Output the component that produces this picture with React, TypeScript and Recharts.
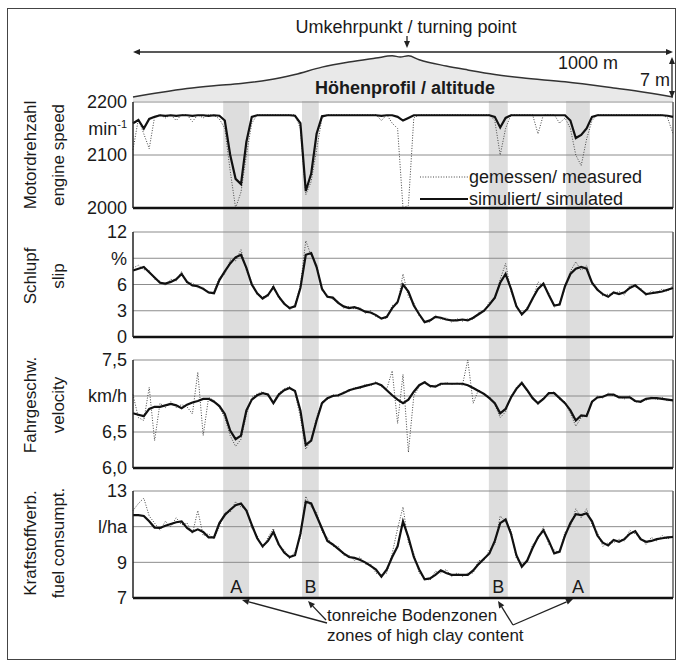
import React from 'react';
import {
  LineChart,
  Line,
  AreaChart,
  Area,
  XAxis,
  YAxis,
  ReferenceLine,
  ReferenceArea
} from 'recharts';

const FONT = '"Liberation Sans", Arial, Helvetica, sans-serif';

// distance along the track, m (10 m steps)
const DIST = Array.from({ length: 101 }, (_, i) => i * 10);

const ENGINE_SIM = [
  2160, 2166, 2150, 2168, 2172, 2175, 2174, 2175, 2174, 2175,
  2175, 2174, 2175, 2175, 2174, 2175, 2174, 2165, 2100, 2055,
  2045, 2125, 2172, 2175, 2175, 2175, 2175, 2175, 2175, 2175,
  2174, 2160, 2032, 2065, 2140, 2173, 2175, 2175, 2175, 2175,
  2175, 2175, 2175, 2175, 2175, 2175, 2174, 2175, 2175, 2172,
  2165, 2170, 2175, 2175, 2175, 2175, 2175, 2175, 2175, 2175,
  2175, 2175, 2175, 2175, 2175, 2175, 2175, 2172, 2152, 2170,
  2175, 2175, 2175, 2175, 2175, 2175, 2175, 2175, 2175, 2175,
  2175, 2165, 2132, 2138, 2150, 2172, 2175, 2175, 2175, 2175,
  2175, 2175, 2175, 2175, 2175, 2175, 2175, 2175, 2175, 2174,
  2172
];
const ENGINE_MEAS = [
  2110, 2168, 2140, 2112, 2172, 2176, 2170, 2176, 2165, 2176,
  2176, 2163, 2176, 2170, 2176, 2175, 2168, 2150, 2070, 2000,
  2030, 2100, 2160, 2176, 2176, 2176, 2176, 2176, 2176, 2176,
  2176, 2150, 2025, 2050, 2110, 2170, 2176, 2176, 2176, 2176,
  2176, 2176, 2176, 2176, 2176, 2176, 2165, 2176, 2160, 2150,
  2000, 2005, 2170, 2176, 2176, 2176, 2176, 2176, 2176, 2176,
  2176, 2176, 2176, 2176, 2176, 2176, 2176, 2165, 2100, 2150,
  2176, 2176, 2176, 2176, 2176, 2140, 2176, 2176, 2176, 2160,
  2170, 2150, 2100, 2080, 2130, 2165, 2176, 2176, 2176, 2176,
  2176, 2176, 2176, 2176, 2176, 2176, 2176, 2176, 2176, 2170,
  2140
];

const SLIP_SIM = [
  7.6, 7.8, 8.0, 7.4, 6.8, 6.2, 6.1, 6.3, 6.6, 7.2,
  6.3, 5.9, 5.8, 5.5, 5.1, 5.0, 6.5, 7.5, 8.4, 9.1,
  9.4, 7.9, 6.0, 5.0, 4.4, 4.8, 5.7, 4.6, 3.8, 3.3,
  3.5, 5.6, 9.4, 9.6, 8.0, 5.5, 4.6, 4.5, 3.9, 3.5,
  3.3, 3.4, 3.2, 2.9, 2.8, 2.5, 2.1, 2.3, 3.3, 4.0,
  6.0, 5.2, 3.6, 2.6, 1.7, 1.9, 2.3, 2.2, 2.0, 1.9,
  1.9, 2.0, 1.9, 2.2, 2.6, 3.0, 3.7, 4.5, 6.2, 7.2,
  5.5, 3.5, 2.6, 3.2, 4.4, 5.5, 6.1, 4.8, 3.6, 3.7,
  5.8, 7.2, 7.8, 8.0, 7.8, 6.2, 5.4, 4.9, 4.6, 5.1,
  4.9, 5.1, 5.6, 5.9, 5.4, 4.9, 5.0, 5.1, 5.2, 5.4,
  5.6
];
const SLIP_MEAS = [
  7.9, 8.2, 7.7, 7.6, 6.6, 6.4, 5.9, 6.6, 6.4, 7.5,
  6.1, 6.2, 5.6, 5.7, 5.0, 5.2, 6.8, 7.2, 8.8, 8.7,
  10.0, 7.6, 6.3, 4.8, 4.6, 4.6, 6.0, 4.4, 4.0, 3.1,
  3.7, 5.9, 11.0, 9.3, 8.3, 5.3, 4.8, 4.3, 4.1, 3.3,
  3.5, 3.2, 3.4, 2.7, 3.0, 2.3, 2.2, 2.1, 3.6, 3.8,
  7.2, 4.6, 3.9, 2.4, 1.8, 1.7, 2.5, 2.0, 2.2, 1.7,
  2.1, 1.8, 2.1, 2.0, 2.8, 2.9, 4.0, 4.3, 6.6, 8.4,
  5.2, 3.7, 2.4, 3.4, 4.2, 6.3, 5.8, 5.0, 3.4, 3.9,
  5.6, 7.5, 8.6, 7.6, 8.2, 6.0, 5.6, 4.7, 4.9, 4.9,
  5.2, 4.8, 5.9, 5.7, 5.6, 4.7, 5.3, 5.0, 5.5, 5.2,
  5.9
];

const VEL_SIM = [
  6.76, 6.74, 6.72, 6.82, 6.85, 6.85, 6.87, 6.89, 6.87, 6.83,
  6.88, 6.91, 6.93, 6.96, 6.96, 6.92, 6.86, 6.75, 6.52, 6.40,
  6.45, 6.80, 6.95, 7.01, 7.04, 7.02, 6.90, 7.02, 7.08, 7.11,
  7.07, 6.80, 6.32, 6.38, 6.66, 6.90, 6.97, 7.00, 7.01, 7.04,
  7.08, 7.10, 7.12, 7.14, 7.16, 7.18, 7.15, 7.08, 7.01, 6.95,
  6.90, 6.95, 7.06, 7.15, 7.19, 7.14, 7.13, 7.17, 7.17, 7.17,
  7.17, 7.17, 7.15, 7.11, 7.07, 7.03, 6.97, 6.90, 6.76, 6.82,
  6.98, 7.10, 7.18, 7.08, 6.97, 6.90, 6.96, 7.04, 7.04, 6.97,
  6.90, 6.80, 6.66, 6.73, 6.72, 6.92, 6.98, 6.99, 7.02, 7.02,
  6.98, 6.98, 6.98, 6.93, 6.92, 6.96, 6.97, 6.97, 6.96, 6.95,
  6.94
];
const VEL_MEAS = [
  7.02, 6.70, 6.66, 7.12, 6.38, 6.90, 6.84, 6.92, 6.84, 6.88,
  6.85, 6.75, 7.33, 6.45, 6.98, 6.94, 6.84, 6.70, 6.45, 6.30,
  6.40, 6.75, 6.98, 7.03, 7.06, 7.00, 6.92, 7.04, 7.10, 7.13,
  7.05, 6.70, 6.26, 6.40, 6.70, 6.92, 6.95, 7.02, 6.99, 7.06,
  7.06, 7.12, 7.10, 7.16, 7.14, 7.20, 7.13, 7.10, 7.35, 6.62,
  7.30, 6.22, 7.00, 7.13, 7.21, 7.12, 7.15, 7.15, 7.19, 7.16,
  7.18, 7.15, 7.50, 6.90, 7.09, 7.01, 6.99, 6.88, 6.70, 6.78,
  7.00, 7.12, 7.20, 7.06, 6.99, 6.88, 6.98, 7.02, 7.06, 6.95,
  6.92, 6.76, 6.58, 6.70, 6.75, 6.90, 7.00, 6.97, 7.04, 7.00,
  7.00, 6.96, 7.00, 6.91, 6.94, 6.94, 6.99, 6.95, 6.98, 6.93,
  6.96
];

const FUEL_SIM = [
  11.65, 11.65, 11.6, 11.3, 10.95, 10.93, 11.05, 11.15, 11.25, 11.3,
  10.93, 10.72, 10.85, 10.7, 10.4, 10.4, 11.2, 11.65, 11.95, 12.2,
  12.3, 11.9, 11.1, 10.35, 9.9, 10.2, 10.7, 10.0, 9.55, 9.3,
  9.4, 10.6, 12.4, 12.3, 11.6, 10.9, 10.2, 10.0, 9.75, 9.5,
  9.3, 9.25, 9.15, 9.0, 8.8, 8.6, 8.2, 8.6, 9.3, 9.9,
  11.3, 10.4, 9.3, 8.6, 8.05, 8.1, 8.3, 8.55, 8.4, 8.3,
  8.3, 8.3, 8.3, 8.55, 8.9, 9.2, 9.5, 10.2, 11.2, 11.4,
  10.6, 9.4, 8.75, 9.1, 9.8, 10.4, 10.8, 10.2, 9.5, 9.6,
  10.5, 11.2, 11.7, 11.65, 11.75, 11.3, 10.5, 10.1, 9.95, 10.25,
  10.15, 10.3, 10.6, 10.75, 10.3, 10.15, 10.2, 10.3, 10.35, 10.4,
  10.42
];
const FUEL_MEAS = [
  11.9, 12.3, 12.6, 11.6, 11.2, 10.8, 11.3, 11.0, 11.5, 11.1,
  11.2, 10.6, 11.9, 10.5, 10.6, 10.3, 11.0, 11.8, 11.8, 12.4,
  12.1, 12.0, 10.9, 10.5, 9.8, 10.4, 10.9, 9.9, 9.7, 9.2,
  9.6, 10.4, 12.7, 12.1, 11.8, 10.7, 10.4, 9.9, 9.9, 9.4,
  9.4, 9.1, 9.3, 8.9, 8.9, 8.4, 8.3, 8.4, 9.5, 10.9,
  12.1, 10.1, 9.5, 8.4, 8.1, 8.0, 8.5, 8.4, 8.6, 8.2,
  8.4, 8.2, 8.4, 8.4, 9.1, 9.1, 9.7, 10.0, 11.6, 11.3,
  10.8, 9.2, 8.9, 9.0, 10.0, 10.3, 11.0, 10.0, 9.7, 9.5,
  10.7, 11.0, 12.0, 11.5, 12.0, 11.1, 10.7, 9.9, 10.1, 10.1,
  10.3, 10.2, 10.8, 10.6, 10.4, 10.0, 10.4, 10.2, 10.5, 10.3,
  10.5
];

// altitude profile (relative height, m)
const ALT_DIST = [0, 50, 100, 150, 200, 250, 300, 350, 400, 450, 480, 495, 510, 530, 580, 620, 670, 720, 800, 890, 950, 1000];
const ALT_VAL = [0, 0.8, 1.5, 2.0, 2.4, 3.0, 4.0, 5.3, 6.2, 6.9, 7.3, 7.1, 7.3, 6.6, 5.5, 4.8, 4.0, 3.4, 2.7, 1.6, 0.8, 0];

// clay zones (m)
const ZONE_START = [167, 313, 659, 802];
const ZONE_END = [215, 344, 694, 846];
const ZONE_LABEL = ['A', 'B', 'B', 'A'];

const ROWS = DIST.map((d, i) => ({
  d,
  engSim: ENGINE_SIM[i],
  engMeas: ENGINE_MEAS[i],
  slipSim: SLIP_SIM[i],
  slipMeas: SLIP_MEAS[i],
  velSim: VEL_SIM[i],
  velMeas: VEL_MEAS[i],
  fuelSim: FUEL_SIM[i],
  fuelMeas: FUEL_MEAS[i]
}));
const ALT_ROWS = ALT_DIST.map((d, i) => ({ d, h: ALT_VAL[i] }));

const GRID = '#8c8c8c';
const MEAS_DASH = '1 1.6';

const makeTick = (labels: Record<string, string>) => (props: any) => {
  const { x, y, payload } = props;
  const lab = labels[String(payload.value)] ?? String(payload.value);
  return (
    <text x={x} y={y} dy="0.35em" textAnchor="end" fontSize={18} fill="#1a1a1a" fontFamily={FONT}>
      {lab === 'min-1' ? (
        <>
          <tspan>min</tspan>
          <tspan dy={-7} fontSize={11}>-1</tspan>
        </>
      ) : (
        lab
      )}
    </text>
  );
};

interface PanelProps {
  top: number;
  height: number;
  domain: [number, number];
  ticks: number[];
  grid: number[];
  labels: Record<string, string>;
  simKey: string;
  measKey: string;
}

// plot area always spans page x 133..673; top margin 10, bottom margin 10
const Panel: React.FC<PanelProps> = ({ top, height, domain, ticks, grid, labels, simKey, measKey }) => (
  <div style={{ position: 'absolute', left: 9, top }}>
    <LineChart width={670} height={height} data={ROWS} margin={{ top: 10, right: 6, bottom: 10, left: 64 }}>
      <XAxis dataKey="d" type="number" domain={[0, 1000]} hide />
      <YAxis
        width={60}
        domain={domain}
        ticks={ticks}
        interval={0}
        allowDataOverflow
        tickSize={0}
        tickMargin={6}
        tickLine={false}
        axisLine={{ stroke: '#222', strokeWidth: 1.5 }}
        tick={makeTick(labels)}
      />
      {grid.map(g => (
        <ReferenceLine key={g} y={g} stroke={GRID} strokeWidth={1} ifOverflow="visible" />
      ))}
      <ReferenceLine y={domain[1]} stroke={GRID} strokeWidth={1.2} ifOverflow="visible" />
      <ReferenceLine x={1000} stroke="#6a6a6a" strokeWidth={1.6} ifOverflow="visible" />
      <Line
        dataKey={measKey}
        type="linear"
        stroke="#444"
        strokeWidth={1}
        strokeDasharray={MEAS_DASH}
        dot={false}
        isAnimationActive={false}
      />
      <Line
        dataKey={simKey}
        type="linear"
        stroke="#111"
        strokeWidth={2.2}
        dot={false}
        isAnimationActive={false}
      />
      <ReferenceLine y={domain[0]} stroke="#111" strokeWidth={2.5} ifOverflow="visible" />
    </LineChart>
  </div>
);

const Arrow = ({ x1, y1, x2, y2 }: { x1: number; y1: number; x2: number; y2: number }) => {
  const a = Math.atan2(y2 - y1, x2 - x1);
  const L = 7;
  const W = 3;
  const bx = x2 - L * Math.cos(a);
  const by = y2 - L * Math.sin(a);
  const px = -Math.sin(a) * W;
  const py = Math.cos(a) * W;
  return (
    <g>
      <line x1={x1} y1={y1} x2={bx} y2={by} stroke="#222" strokeWidth={1.3} />
      <polygon points={`${x2},${y2} ${bx + px},${by + py} ${bx - px},${by - py}`} fill="#222" />
    </g>
  );
};

const YTitle = ({ x, y, text }: { x: number; y: number; text: string }) => (
  <text
    transform={`translate(${x},${y}) rotate(-90)`}
    textAnchor="middle"
    dy="0.35em"
    fontSize={17}
    fill="#1a1a1a"
    fontFamily={FONT}
  >
    {text}
  </text>
);

export default function App() {
  return (
    <div
      style={{
        position: 'fixed',
        left: 0,
        top: 0,
        width: 680,
        height: 663,
        overflow: 'hidden',
        background: '#fff',
        fontFamily: FONT
      }}
    >
      {/* outer frame */}
      <div
        style={{
          position: 'absolute',
          left: 7,
          top: 8,
          width: 669,
          height: 652,
          boxSizing: 'border-box',
          border: '1px solid #444'
        }}
      />

      {/* clay zones behind all panels */}
      <div style={{ position: 'absolute', left: 9, top: 100 }}>
        <LineChart width={670} height={498} data={ROWS} margin={{ top: 0, right: 6, bottom: 0, left: 124 }}>
          <XAxis dataKey="d" type="number" domain={[0, 1000]} hide />
          <YAxis hide domain={[0, 12]} />
          {ZONE_START.map((x1, i) => (
            <ReferenceArea
              key={i}
              x1={x1}
              x2={ZONE_END[i]}
              fill="#dddddd"
              fillOpacity={1}
              stroke="none"
              label={{
                value: ZONE_LABEL[i],
                position: 'insideBottom',
                offset: 5,
                fontSize: 18,
                fill: '#1a1a1a',
                fontFamily: FONT
              }}
            />
          ))}
          <Line dataKey="slipSim" stroke="none" dot={false} isAnimationActive={false} />
        </LineChart>
      </div>

      {/* altitude profile */}
      <div style={{ position: 'absolute', left: 9, top: 9 }}>
        <AreaChart width={670} height={95} data={ALT_ROWS} margin={{ top: 44, right: 6, bottom: 3, left: 124 }}>
          <XAxis dataKey="d" type="number" domain={[0, 1000]} hide />
          <YAxis hide domain={[-0.7, 7.8]} allowDataOverflow />
          <Area
            dataKey="h"
            type="monotone"
            stroke="#333"
            strokeWidth={1.5}
            fill="#e9e9e9"
            fillOpacity={1}
            baseValue="dataMin"
            isAnimationActive={false}
          />
        </AreaChart>
      </div>

      <Panel
        top={92}
        height={126}
        domain={[2000, 2200]}
        ticks={[2000, 2100, 2150, 2200]}
        grid={[2100]}
        labels={{ '2150': 'min-1' }}
        simKey="engSim"
        measKey="engMeas"
      />
      <Panel
        top={222}
        height={125}
        domain={[0, 12]}
        ticks={[0, 3, 6, 9, 12]}
        grid={[3, 6, 9]}
        labels={{ '9': '%' }}
        simKey="slipSim"
        measKey="slipMeas"
      />
      <Panel
        top={350}
        height={128}
        domain={[6, 7.5]}
        ticks={[6, 6.5, 7, 7.5]}
        grid={[6.5, 7]}
        labels={{ '6': '6,0', '6.5': '6,5', '7': 'km/h', '7.5': '7,5' }}
        simKey="velSim"
        measKey="velMeas"
      />
      <Panel
        top={481}
        height={127}
        domain={[7, 13]}
        ticks={[7, 9, 11, 13]}
        grid={[9, 11]}
        labels={{ '11': 'l/ha' }}
        simKey="fuelSim"
        measKey="fuelMeas"
      />

      {/* annotations */}
      <svg
        width={680}
        height={663}
        style={{ position: 'absolute', left: 0, top: 0, pointerEvents: 'none' }}
        fontFamily={FONT}
      >
        <text x={406} y={33} textAnchor="middle" fontSize={18} fill="#1a1a1a">
          Umkehrpunkt / turning point
        </text>
        <Arrow x1={407} y1={36} x2={407} y2={48} />
        <Arrow x1={400} y1={52} x2={673} y2={52} />
        <Arrow x1={400} y1={52} x2={133} y2={52} />
        <text x={558} y={69} fontSize={18} fill="#1a1a1a">1000 m</text>
        <text x={640} y={86} fontSize={18} fill="#1a1a1a">7 m</text>
        <Arrow x1={672} y1={78} x2={672} y2={57} />
        <Arrow x1={672} y1={78} x2={672} y2={98} />
        <text x={405} y={94} textAnchor="middle" fontSize={18} fontWeight="bold" fill="#1a1a1a">
          Höhenprofil / altitude
        </text>

        <YTitle x={30} y={155} text="Motordrehzahl" />
        <YTitle x={58} y={155} text="engine speed" />
        <YTitle x={30} y={276} text="Schlupf" />
        <YTitle x={58} y={276} text="slip" />
        <YTitle x={30} y={405} text="Fahrgeschw." />
        <YTitle x={58} y={405} text="velocity" />
        <YTitle x={30} y={543} text="Kraftstoffverb." />
        <YTitle x={58} y={543} text="fuel consumpt." />

        {/* legend */}
        <line x1={420} y1={177} x2={468} y2={177} stroke="#444" strokeWidth={1} strokeDasharray={MEAS_DASH} />
        <text x={469} y={183} fontSize={18} fill="#1a1a1a">gemessen/ measured</text>
        <line x1={420} y1={199} x2={468} y2={199} stroke="#111" strokeWidth={2} />
        <text x={469} y={205} fontSize={18} fill="#1a1a1a">simuliert/ simulated</text>

        {/* clay zone note */}
        <Arrow x1={327} y1={623} x2={242} y2={600} />
        <Arrow x1={326} y1={620} x2={308} y2={601} />
        <Arrow x1={513} y1={625} x2={498} y2={601} />
        <Arrow x1={513} y1={625} x2={573} y2={599} />
        <text x={327} y={621} fontSize={17} fill="#1a1a1a">tonreiche Bodenzonen</text>
        <text x={327} y={641} fontSize={17} fill="#1a1a1a">zones of high clay content</text>
      </svg>
    </div>
  );
}
